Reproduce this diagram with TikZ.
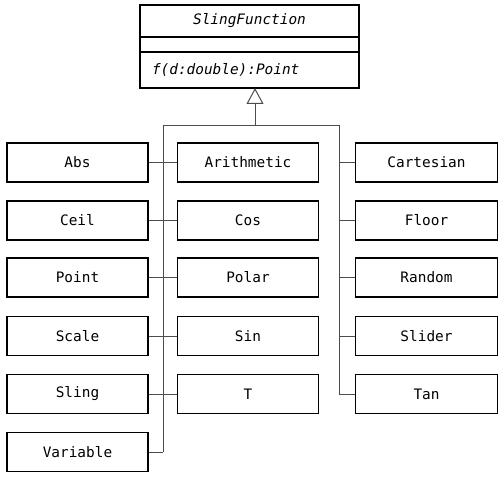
\documentclass[tikz,border=0pt]{standalone}
\usepackage{fontspec}
\newfontfamily\umlfont{DejaVu Sans Mono}
\usetikzlibrary{arrows.meta,positioning}

\begin{document}
\begin{tikzpicture}[x=1pt,y=-1pt,
  font=\umlfont\fontsize{14.4}{16}\selectfont,
  cls/.style={draw,line width=1.5pt,minimum width=141pt,minimum height=39pt,
    inner sep=0pt},
  part/.style={draw,line width=1.5pt,minimum width=219pt,inner sep=0pt,
    outer sep=0pt},
  link/.style={black!70,line width=1pt}]
  \useasboundingbox (0,0) rectangle (500,476);

  % the abstract class
  \node[part,minimum height=32pt,font=\umlfont\itshape\fontsize{14.4}{16}\selectfont]
    (title) at (249.5,21) {SlingFunction};
  \node[part,minimum height=15pt,below=0pt of title] (attrs) {};
  \node[part,minimum height=36pt,below=0pt of attrs,text width=195pt,align=left,
    font=\umlfont\itshape\fontsize{14.4}{16}\selectfont]
    (method) {f(d:double):Point};

  % subclasses
  \node[cls] (abs)      at (77.5,162.5) {Abs};
  \node[cls] (ceil)     at (77.5,220.5) {Ceil};
  \node[cls] (point)    at (77.5,277.5) {Point};
  \node[cls] (scale)    at (77.5,336)   {Scale};
  \node[cls] (sling)    at (77.5,394)   {Sling};
  \node[cls] (variable) at (77.5,452)   {Variable};

  \node[cls] (arith) at (248,162.5) {Arithmetic};
  \node[cls] (cos)   at (248,220.5) {Cos};
  \node[cls] (polar) at (248,277.5) {Polar};
  \node[cls] (sin)   at (248,336)   {Sin};
  \node[cls] (t)     at (248,394)   {T};

  \node[cls,minimum width=142pt] (cart)   at (426.5,162.5) {Cartesian};
  \node[cls,minimum width=142pt] (floor)  at (426.5,220.5) {Floor};
  \node[cls,minimum width=142pt] (random) at (426.5,277.5) {Random};
  \node[cls,minimum width=142pt] (slider) at (426.5,336)   {Slider};
  \node[cls,minimum width=142pt] (tan)    at (426.5,394)   {Tan};

  % bus
  \coordinate (hub) at (255,125);
  \coordinate (lbus) at (163,125);
  \coordinate (rbus) at (339,125);

  \draw[link,-{Triangle[open,length=16pt,width=17pt,line width=1pt]}]
    (hub) -- (hub |- method.south);
  \draw[link] (lbus |- variable.east) -- (lbus) -- (rbus) -- (rbus |- tan.west);

  \draw[link] (abs) -- (arith);
  \draw[link] (ceil) -- (cos);
  \draw[link] (point) -- (polar);
  \draw[link] (scale) -- (sin);
  \draw[link] (sling) -- (t);
  \draw[link] (variable.east) -- (variable.east -| lbus);

  \draw[link] (cart.west) -- (cart.west -| rbus);
  \draw[link] (floor.west) -- (floor.west -| rbus);
  \draw[link] (random.west) -- (random.west -| rbus);
  \draw[link] (slider.west) -- (slider.west -| rbus);
  \draw[link] (tan.west) -- (tan.west -| rbus);
\end{tikzpicture}
\end{document}
